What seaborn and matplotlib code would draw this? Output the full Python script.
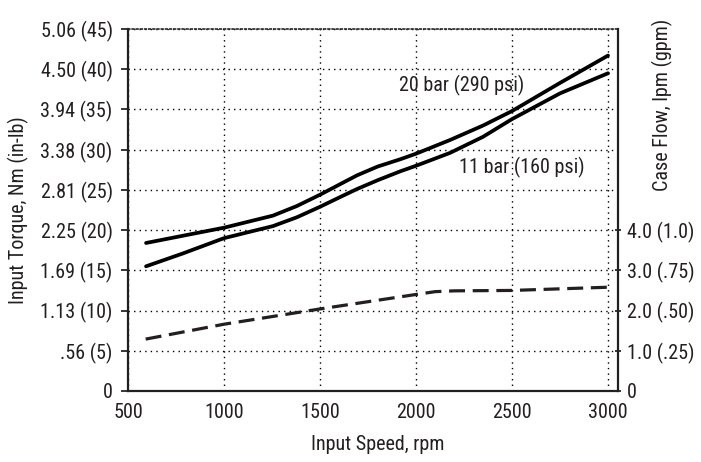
import numpy as np
import pandas as pd
import seaborn as sns
import matplotlib
matplotlib.use("Agg")
import matplotlib.pyplot as plt
from matplotlib import font_manager

# data (torque in in-lb, flow in lpm)
rpm_20bar = [594, 786, 1000, 1255, 1380, 1500, 1604, 1692, 1800, 1917, 2000, 2177, 2349, 2500, 2750, 3000]
torque_20bar = [18.4, 19.3, 20.3, 21.8, 23.0, 24.4, 25.7, 26.8, 27.9, 28.8, 29.5, 31.2, 33.0, 34.8, 38.3, 41.7]

rpm_11bar = [594, 786, 1000, 1255, 1380, 1500, 1604, 1692, 1800, 1917, 2000, 2177, 2349, 2500, 2750, 3000]
torque_11bar = [15.5, 17.1, 19.0, 20.5, 21.6, 22.9, 24.1, 25.1, 26.2, 27.3, 28.0, 29.6, 31.6, 33.8, 37.0, 39.5]

rpm_flow = [592, 1000, 1500, 2000, 2100, 2200, 2500, 3000]
case_flow = [1.29, 1.66, 2.04, 2.40, 2.47, 2.49, 2.50, 2.58]

x_ticks = [500, 1000, 1500, 2000, 2500, 3000]
left_ticks = [0, 5, 10, 15, 20, 25, 30, 35, 40, 45]
left_labels = ["0", ".56 (5)", "1.13 (10)", "1.69 (15)", "2.25 (20)", "2.81 (25)",
               "3.38 (30)", "3.94 (35)", "4.50 (40)", "5.06 (45)"]
right_ticks = [0, 1, 2, 3, 4]
right_labels = ["0", "1.0 (.25)", "2.0 (.50)", "3.0 (.75)", "4.0 (1.0)"]

sns.set_style("white")

# pick a condensed face if one is installed
fonts = [(f.name, f.stretch) for f in font_manager.fontManager.ttflist]
names = {n for n, s in fonts}
fam, stretch, fs = "DejaVu Sans", "normal", 12
if "Roboto Condensed" in names:
    fam, stretch, fs = "Roboto Condensed", "normal", 14.5
elif "Liberation Sans Narrow" in names:
    fam, stretch, fs = "Liberation Sans Narrow", "normal", 14.5
else:
    for cand in ["DejaVu Sans", "Noto Sans", "Open Sans", "Roboto"]:
        if any(n == cand and s in ("condensed", "semi-condensed", 75, 87.5, "75", "87.5") for n, s in fonts):
            fam, stretch, fs = cand, "condensed", 13.5
            break
plt.rcParams["font.family"] = [fam, "DejaVu Sans"]
plt.rcParams["font.stretch"] = stretch
plt.rcParams["font.size"] = fs
txt = "#231f20"

fig = plt.figure(figsize=(7.01, 4.62), dpi=100)
ax = fig.add_axes([0.1826, 0.1537, 0.699, 0.7835])

df20 = pd.DataFrame({"rpm": rpm_20bar, "torque": torque_20bar})
df11 = pd.DataFrame({"rpm": rpm_11bar, "torque": torque_11bar})
sns.lineplot(data=df20, x="rpm", y="torque", ax=ax, color="black", lw=2.7, zorder=3,
             solid_joinstyle="round")
sns.lineplot(data=df11, x="rpm", y="torque", ax=ax, color="black", lw=2.7, zorder=3,
             solid_joinstyle="round")

ax.set_xlim(500, 3052)
ax.set_ylim(0, 45)
ax.set_xticks(x_ticks)
ax.set_xticklabels([str(t) for t in x_ticks], color=txt)
ax.set_yticks(left_ticks)
ax.set_yticklabels(left_labels, color=txt)
ax.grid(True, color="black", lw=1.0, linestyle=(0, (1, 3)))
ax.tick_params(axis="x", length=0, pad=9)
ax.tick_params(axis="y", length=5, width=1.3, pad=6, direction="out")
ax.set_xlabel("")
ax.set_ylabel("")

for side in ["left", "bottom"]:
    ax.spines[side].set_linewidth(1.6)
    ax.spines[side].set_color("#231f20")
ax.spines["right"].set_visible(False)
ax.spines["top"].set_linestyle((0, (1, 1.5)))
ax.spines["top"].set_linewidth(1.2)

ax.text(2240, 38.0, "20 bar (290 psi)", ha="center", va="center", color=txt)
ax.text(2552, 27.85, "11 bar (160 psi)", ha="center", va="center", color=txt)

ax2 = ax.twinx()
dff = pd.DataFrame({"rpm": rpm_flow, "flow": case_flow})
sns.lineplot(data=dff, x="rpm", y="flow", ax=ax2, color="#231f20", lw=2.3)
ax2.lines[0].set_dashes((5, 2.4))
ax2.set_ylim(0, 9)
ax2.set_yticks(right_ticks)
ax2.set_yticklabels(right_labels, color=txt)
ax2.tick_params(axis="y", length=5, width=1.3, pad=4, direction="inout")
ax2.set_ylabel("")
ax2.set_xlabel("")
for side in ["left", "top", "bottom"]:
    ax2.spines[side].set_visible(False)
ax2.spines["right"].set_linewidth(1.6)
ax2.spines["right"].set_color("#231f20")
ax2.grid(False)

fig.text(18 / 701, 1 - 210 / 462, "Input Torque, Nm (in-lb)", rotation=90,
         ha="center", va="center", color=txt)
fig.text(662 / 701, 1 - 105 / 462, "Case Flow, lpm (gpm)", rotation=90,
         ha="center", va="center", color=txt)
fig.text(378 / 701, 1 - 445 / 462, "Input Speed, rpm", ha="center", va="center", color=txt)

fig.savefig("out.png", dpi=100)
